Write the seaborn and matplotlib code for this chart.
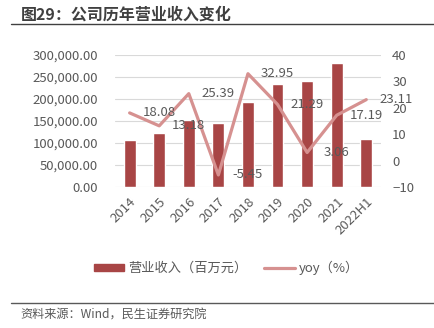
import numpy as np
import pandas as pd
import matplotlib
matplotlib.use("Agg")
import matplotlib.pyplot as plt
import seaborn as sns
from matplotlib.patches import Patch
from matplotlib.lines import Line2D
from matplotlib.ticker import FuncFormatter

categories = ["2014", "2015", "2016", "2017", "2018", "2019", "2020", "2021", "2022H1"]
revenue = [107800, 122000, 153000, 144650, 192300, 233250, 240400, 281700, 110100]
yoy = [18.08, 13.18, 25.39, -5.45, 32.95, 21.29, 3.06, 17.19, 23.11]
left_ticks = [0, 50000, 100000, 150000, 200000, 250000, 300000]
right_ticks = [-10, 0, 10, 20, 30, 40]

sns.set_theme(style="white")
plt.rcParams['font.family'] = ['Noto Sans CJK SC', 'DejaVu Sans']

BAR = "#A84545"
LINE = "#D69190"
TXT = "#595959"
FS = 9.5

fig = plt.figure(figsize=(4.35, 3.28), dpi=100)
ax = fig.add_axes([0.264, 0.430, 0.612, 0.402])

df = pd.DataFrame({"cat": categories, "rev": revenue, "yoy": yoy})
sns.barplot(data=df, x="cat", y="rev", color=BAR, saturation=1, width=0.4, ax=ax)
ax.set_ylim(0, 300000)
ax.set_yticks(left_ticks)
ax.yaxis.set_major_formatter(FuncFormatter(lambda v, p: f"{v:,.2f}"))
ax.grid(axis="y", color="#D9D9D9", linewidth=0.8)
ax.set_axisbelow(True)
ax.set_xlim(-0.5, len(categories) - 0.5)
ax.set_xlabel("")
ax.set_ylabel("")
for s in ax.spines.values():
    s.set_visible(False)
ax.tick_params(axis="y", labelsize=FS, labelcolor=TXT, length=0, pad=12)
ax.tick_params(axis="x", labelsize=FS, labelcolor=TXT, length=0, pad=6)
plt.setp(ax.get_xticklabels(), rotation=45, ha="right", rotation_mode="anchor")

ax2 = ax.twinx()
sns.lineplot(x=np.arange(len(categories)), y=yoy, color=LINE, linewidth=2.3, ax=ax2)
ax2.set_ylim(-10, 40)
ax2.set_yticks(right_ticks)
ax2.tick_params(axis="y", labelsize=FS, labelcolor=TXT, length=0, pad=8)
for s in ax2.spines.values():
    s.set_visible(False)
ax2.set_xlim(-0.5, len(categories) - 0.5)
for i, v in enumerate(yoy):
    ax2.text(i + 1, v, f"{v:.2f}", ha="center", va="center", fontsize=FS,
             color=TXT, clip_on=False)

handles = [Patch(facecolor=BAR, edgecolor=BAR),
           Line2D([0], [0], color=LINE, linewidth=2.3)]
fig.legend(handles, ["营业收入（百万元）", "yoy（%）"], loc="center",
           bbox_to_anchor=(0.52, 0.183), ncol=2, frameon=False, fontsize=FS,
           handlelength=2.3, handleheight=0.5, columnspacing=1.3,
           handletextpad=0.3, labelcolor=TXT)

fig.text(0.048, 1 - 15 / 328, "图29：公司历年营业收入变化", fontsize=11.5,
         fontweight="bold", color="#404040", va="center", ha="left")
fig.add_artist(Line2D([0.025, 1.0], [1 - 24 / 328] * 2, color="#404040", linewidth=1.0))
fig.add_artist(Line2D([0.025, 1.0], [1 - 303 / 328] * 2, color="#595959", linewidth=1.0))
fig.text(0.046, 1 - 315 / 328, "资料来源：Wind，民生证券研究院", fontsize=8.75,
         color=TXT, va="center", ha="left")

fig.savefig("out.png", dpi=100)
